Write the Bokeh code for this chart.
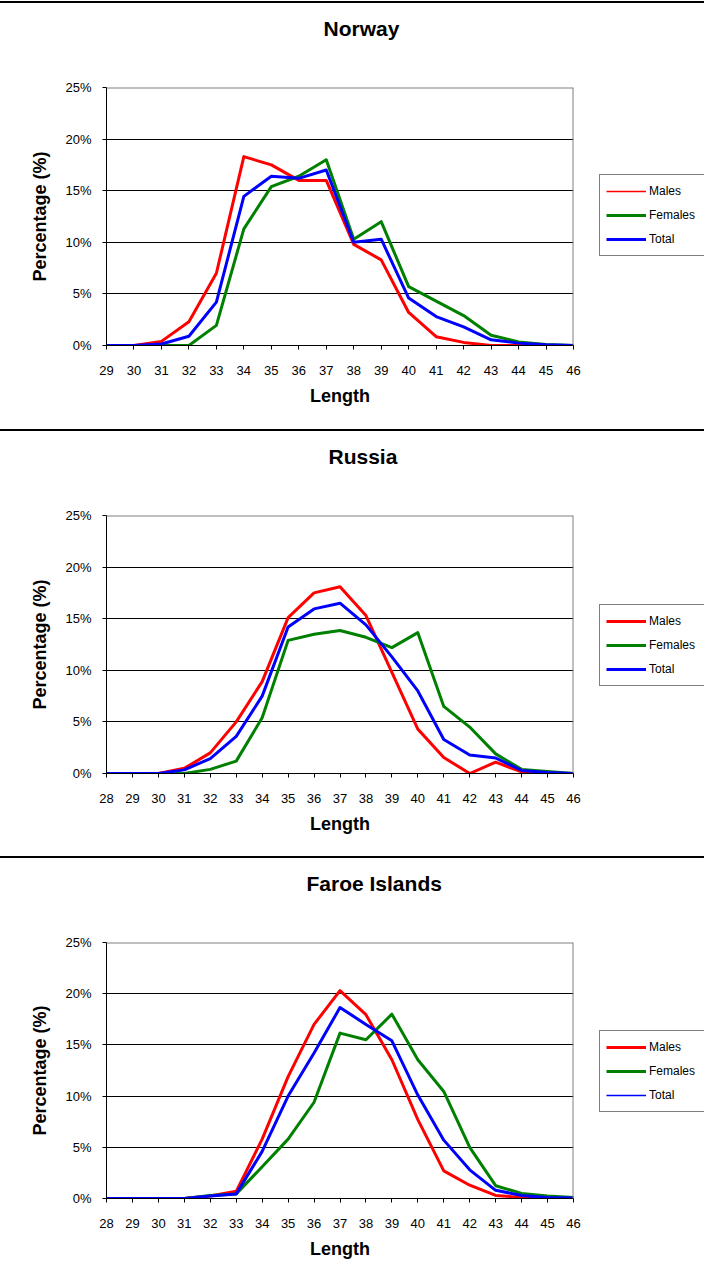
from bokeh.plotting import figure
from bokeh.models import Range1d, FixedTicker, Legend, LegendItem, Span, Div, Title
from bokeh.layouts import column, row
from bokeh.embed import file_html
from bokeh.resources import INLINE

# ---------------- data (percentages) ----------------
norway_length = [29, 30, 31, 32, 33, 34, 35, 36, 37, 38, 39, 40, 41, 42, 43, 44, 45, 46]
norway_males = [0, 0, 0.4, 2.3, 7.0, 18.3, 17.5, 16.0, 16.0, 9.8, 8.3, 3.2, 0.85, 0.3, 0, 0, 0, 0]
norway_females = [0, 0, 0, 0, 1.95, 11.3, 15.4, 16.4, 18.0, 10.3, 12.0, 5.7, 4.3, 2.9, 1.0, 0.35, 0.1, 0]
norway_total = [0, 0, 0.15, 0.9, 4.2, 14.45, 16.4, 16.2, 17.0, 10.0, 10.3, 4.6, 2.8, 1.8, 0.55, 0.23, 0.07, 0]

russia_length = [28, 29, 30, 31, 32, 33, 34, 35, 36, 37, 38, 39, 40, 41, 42, 43, 44, 45, 46]
russia_males = [0, 0, 0, 0.5, 2.0, 5.0, 8.9, 15.1, 17.5, 18.1, 15.3, 9.8, 4.3, 1.55, 0, 1.1, 0.15, 0, 0]
russia_females = [0, 0, 0, 0, 0.4, 1.2, 5.4, 12.9, 13.5, 13.85, 13.2, 12.2, 13.65, 6.5, 4.5, 1.9, 0.4, 0.2, 0]
russia_total = [0, 0, 0, 0.35, 1.45, 3.6, 7.5, 14.2, 15.95, 16.5, 14.4, 11.3, 8.0, 3.3, 1.8, 1.5, 0.3, 0.1, 0]

faroe_length = [28, 29, 30, 31, 32, 33, 34, 35, 36, 37, 38, 39, 40, 41, 42, 43, 44, 45, 46]
faroe_males = [0, 0, 0, 0, 0.25, 0.7, 5.8, 11.9, 17.0, 20.3, 17.95, 13.55, 7.7, 2.7, 1.3, 0.3, 0.1, 0.05, 0]
faroe_females = [0, 0, 0, 0, 0.3, 0.45, 3.1, 5.8, 9.4, 16.15, 15.5, 18.0, 13.55, 10.45, 5.0, 1.25, 0.5, 0.25, 0.1]
faroe_total = [0, 0, 0, 0, 0.25, 0.45, 4.6, 10.0, 14.2, 18.65, 17.0, 15.4, 10.1, 5.7, 2.8, 0.8, 0.3, 0.1, 0.05]

y_ticks = [0, 5, 10, 15, 20, 25]
y_tick_labels = ["0%", "5%", "10%", "15%", "20%", "25%"]
series_names = ["Males", "Females", "Total"]
series_colors = ["#FF0000", "#008000", "#0000FF"]

FONT = "Liberation Sans"
W = 704
MAIN_W = 598
LEG_W = W - MAIN_W
NAN = float("nan")


def make_panel(title, lengths, series, height, top, bottom, title_offset, legend_bottom, thin):
    p = figure(width=MAIN_W, height=height, output_backend="svg", toolbar_location=None,
               title=None,
               x_range=Range1d(lengths[0], lengths[-1]), y_range=Range1d(0, 25),
               min_border_left=106, min_border_right=MAIN_W - 573,
               min_border_top=top, min_border_bottom=bottom,
               background_fill_color="white", border_fill_color="white",
               outline_line_color=None)
    # spacer title (nearest the frame) pushes the real title upwards
    p.add_layout(Title(text=" ", text_font_size="28px"), "above")
    p.add_layout(Title(text=title, align="left", offset=title_offset,
                       text_font=FONT, text_font_size="21px",
                       text_font_style="bold", text_color="black"), "above")

    # axes
    p.xaxis.ticker = FixedTicker(ticks=lengths)
    p.yaxis.ticker = FixedTicker(ticks=y_ticks)
    p.yaxis.major_label_overrides = {t: l for t, l in zip(y_ticks, y_tick_labels)}
    for ax in (p.xaxis[0], p.yaxis[0]):
        ax.axis_line_color = "black"
        ax.axis_line_width = 1
        ax.major_tick_line_color = "black"
        ax.major_tick_in = 0
        ax.major_tick_out = 4
        ax.minor_tick_in = 0
        ax.minor_tick_out = 0
        ax.major_label_text_font = FONT
        ax.major_label_text_font_size = "13px"
        ax.major_label_text_color = "black"
        ax.axis_label_text_font = FONT
        ax.axis_label_text_font_size = "18px"
        ax.axis_label_text_font_style = "bold"
        ax.axis_label_text_color = "black"
    p.xaxis.axis_label = "Length"
    p.yaxis.axis_label = "Percentage (%)"
    p.xaxis.major_label_standoff = 16
    p.xaxis.axis_label_standoff = 8
    p.yaxis.major_label_standoff = 11
    p.yaxis.axis_label_standoff = 12

    # grid
    p.xgrid.grid_line_color = None
    p.ygrid.ticker = FixedTicker(ticks=y_ticks[1:-1])
    p.ygrid.grid_line_color = "black"
    p.ygrid.grid_line_width = 1
    p.ygrid.grid_line_alpha = 1.0

    # gray top / right frame borders
    p.add_layout(Span(location=25, dimension="width", line_color="#808080", line_width=2))
    p.add_layout(Span(location=lengths[-1], dimension="height", line_color="#808080", line_width=2))

    for name, color, values in zip(series_names, series_colors, series):
        p.line(lengths, values, line_color=color, line_width=3, line_join="round")

    # legend lives in its own narrow figure to the right (frame aligned with main frame)
    lg = figure(width=LEG_W, height=height, output_backend="svg", toolbar_location=None,
                title=None, x_axis_type=None, y_axis_type=None,
                x_range=Range1d(0, 1), y_range=Range1d(0, 1),
                min_border_left=0, min_border_right=0, min_border_top=0, min_border_bottom=0,
                background_fill_color="white", border_fill_color="white",
                outline_line_color=None)
    lg.xgrid.grid_line_color = None
    lg.ygrid.grid_line_color = None
    items = []
    for name, color in zip(series_names, series_colors):
        dummy = lg.line(x=[NAN], y=[NAN], line_color=color,
                        line_width=1.5 if name in thin else 3)
        items.append(LegendItem(label=name, renderers=[dummy]))
    legend = Legend(items=items, location=(1, legend_bottom),
                    orientation="vertical",
                    padding=6, spacing=4, glyph_height=20, glyph_width=40,
                    label_height=20, label_width=70, label_standoff=3, margin=0,
                    border_line_color="black", border_line_width=1,
                    background_fill_color="white", background_fill_alpha=1.0,
                    label_text_font=FONT, label_text_font_size="12px",
                    label_text_color="black")
    lg.add_layout(legend, "center")
    return row(p, lg, spacing=0)


def separator():
    return Div(text="", width=W, height=2, margin=0,
               styles={"background-color": "black"})


top_gap = Div(text="", width=W, height=1, margin=0)

p1 = make_panel("Norway", norway_length, [norway_males, norway_females, norway_total],
                426, 84, 84, 217, 89, ["Males"])
p2 = make_panel("Russia", russia_length, [russia_males, russia_females, russia_total],
                425, 84, 83, 222, 87, [])
p3 = make_panel("Faroe Islands", faroe_length, [faroe_males, faroe_females, faroe_total],
                422, 84, 82, 200, 86, ["Total"])

layout = column(top_gap, separator(), p1, separator(), p2, separator(), p3, spacing=0)

open("out.html", "w").write(file_html(layout, INLINE))
